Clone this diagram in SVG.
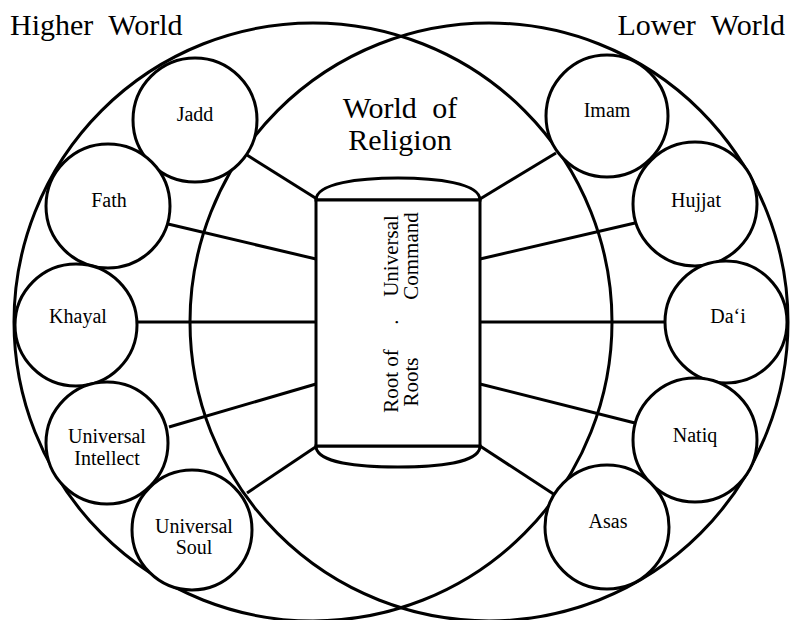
<svg xmlns="http://www.w3.org/2000/svg" width="791" height="620" viewBox="0 0 791 620">
<rect width="791" height="620" fill="#fff"/>
<g id="worlds" fill="none" stroke="#000" stroke-width="3">
<circle cx="313" cy="322" r="299"/>
<circle cx="489" cy="322" r="299"/>
</g>
<g id="titles" fill="#000">
<text x="10" y="35" font-family="Liberation Serif" font-size="30" word-spacing="8">Higher World</text>
<text x="785" y="35" font-family="Liberation Serif" font-size="30" word-spacing="8" text-anchor="end">Lower World</text>
<text x="400" y="118" font-family="Liberation Serif" font-size="30" word-spacing="8" text-anchor="middle">World of</text>
<text x="400" y="150" font-family="Liberation Serif" font-size="30" text-anchor="middle">Religion</text>
</g>
<g id="connectors" stroke="#000" stroke-width="3" fill="none">
<line x1="247" y1="155" x2="317" y2="199"/>
<line x1="168" y1="224" x2="316" y2="259"/>
<line x1="137" y1="322" x2="316" y2="322"/>
<line x1="169" y1="427" x2="316" y2="384"/>
<line x1="247" y1="493" x2="317" y2="446"/>
<line x1="556" y1="153" x2="480" y2="199"/>
<line x1="635" y1="223" x2="480" y2="259"/>
<line x1="665" y1="322" x2="480" y2="322"/>
<line x1="635" y1="423" x2="480" y2="384"/>
<line x1="555" y1="495" x2="480" y2="446"/>
</g>
<g id="root">
<path d="M316,200 C316,183 360,178 398,178 C436,178 480,183 480,200 Z" fill="#fff" stroke="#000" stroke-width="3"/>
<path d="M316,446 C316,463 360,467 398,467 C436,467 480,463 480,446 Z" fill="#fff" stroke="#000" stroke-width="3"/>
<rect x="316" y="200" width="164" height="246" fill="#fff" stroke="#000" stroke-width="3"/>
<text transform="translate(398,256) rotate(-90)" font-family="Liberation Serif" font-size="21" text-anchor="middle">Universal</text>
<text transform="translate(418,256) rotate(-90)" font-family="Liberation Serif" font-size="21" text-anchor="middle">Command</text>
<text transform="translate(398,322) rotate(-90)" font-family="Liberation Serif" font-size="21" text-anchor="middle">.</text>
<text transform="translate(398,381) rotate(-90)" font-family="Liberation Serif" font-size="21" text-anchor="middle">Root of</text>
<text transform="translate(418,382) rotate(-90)" font-family="Liberation Serif" font-size="21" text-anchor="middle">Roots</text>
</g>
<g id="jadd"><circle cx="195" cy="120" r="62" fill="#fff" stroke="#000" stroke-width="3"/><text x="195" y="121" font-family="Liberation Serif" font-size="20" text-anchor="middle">Jadd</text></g>
<g id="fath"><circle cx="108" cy="206" r="62" fill="#fff" stroke="#000" stroke-width="3"/><text x="109" y="207" font-family="Liberation Serif" font-size="20" text-anchor="middle">Fath</text></g>
<g id="khayal"><circle cx="76" cy="325" r="61" fill="#fff" stroke="#000" stroke-width="3"/><text x="78" y="323" font-family="Liberation Serif" font-size="20" text-anchor="middle">Khayal</text></g>
<g id="universal-intellect"><circle cx="107" cy="443" r="61" fill="#fff" stroke="#000" stroke-width="3"/><text x="107" y="443" font-family="Liberation Serif" font-size="20" text-anchor="middle">Universal</text><text x="107" y="465" font-family="Liberation Serif" font-size="20" text-anchor="middle">Intellect</text></g>
<g id="universal-soul"><circle cx="192" cy="530" r="60" fill="#fff" stroke="#000" stroke-width="3"/><text x="194" y="533" font-family="Liberation Serif" font-size="20" text-anchor="middle">Universal</text><text x="194" y="554" font-family="Liberation Serif" font-size="20" text-anchor="middle">Soul</text></g>
<g id="imam"><circle cx="607" cy="116" r="61" fill="#fff" stroke="#000" stroke-width="3"/><text x="607" y="117" font-family="Liberation Serif" font-size="20" text-anchor="middle">Imam</text></g>
<g id="hujjat"><circle cx="695" cy="204" r="62" fill="#fff" stroke="#000" stroke-width="3"/><text x="696" y="207" font-family="Liberation Serif" font-size="20" text-anchor="middle">Hujjat</text></g>
<g id="dai"><circle cx="726" cy="322" r="61" fill="#fff" stroke="#000" stroke-width="3"/><text x="728" y="323" font-family="Liberation Serif" font-size="20" text-anchor="middle">Da&#8216;i</text></g>
<g id="natiq"><circle cx="695" cy="440" r="62" fill="#fff" stroke="#000" stroke-width="3"/><text x="695" y="442" font-family="Liberation Serif" font-size="20" text-anchor="middle">Natiq</text></g>
<g id="asas"><circle cx="607" cy="527" r="62" fill="#fff" stroke="#000" stroke-width="3"/><text x="608" y="528" font-family="Liberation Serif" font-size="20" text-anchor="middle">Asas</text></g>
</svg>
